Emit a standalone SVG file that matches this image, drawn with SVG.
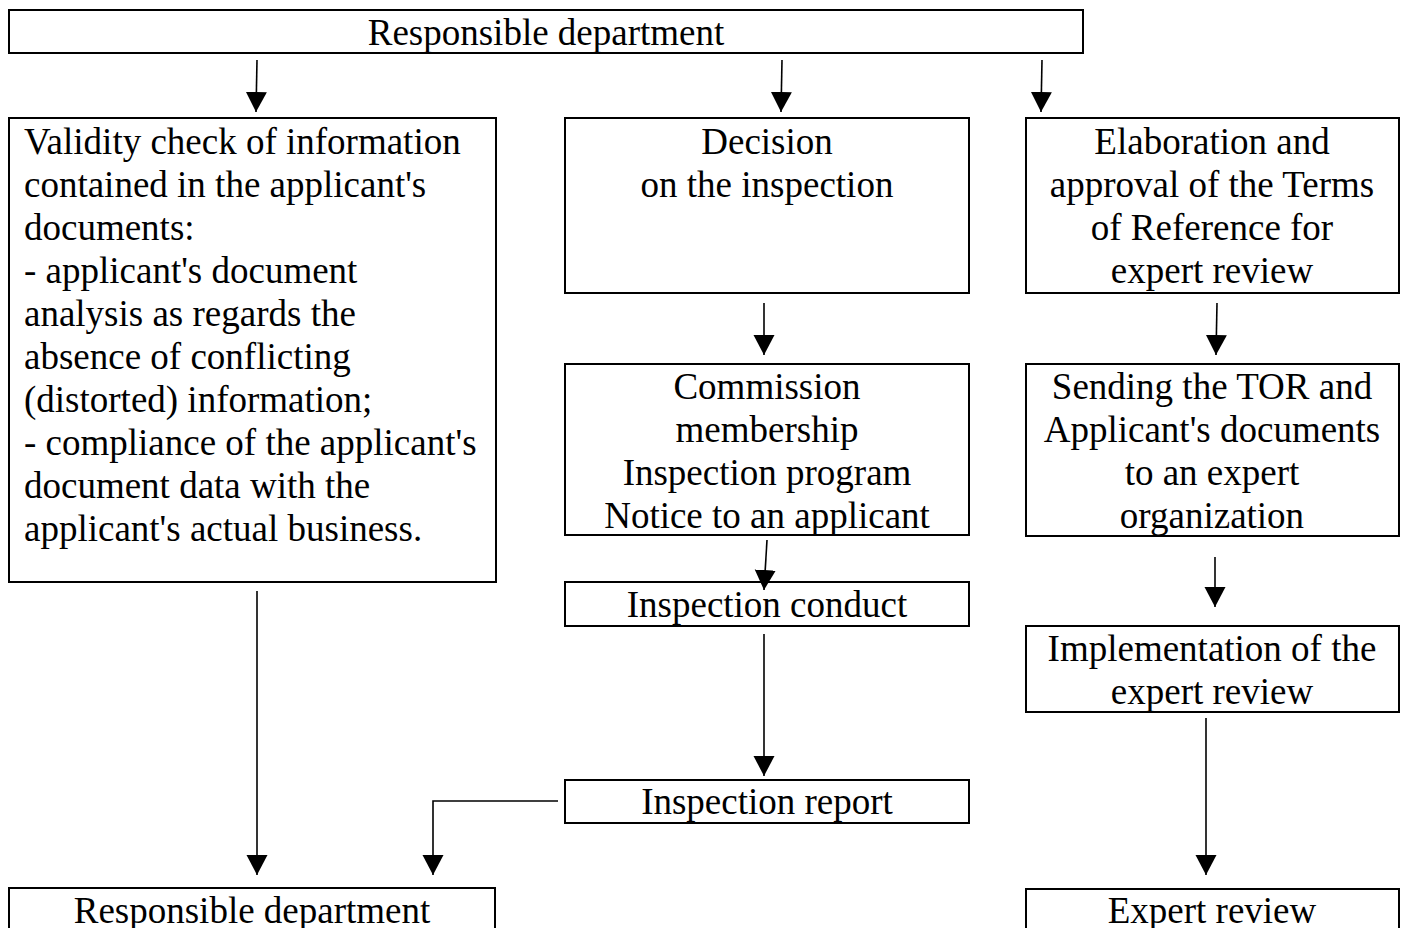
<svg xmlns="http://www.w3.org/2000/svg" width="1405" height="928" viewBox="0 0 1405 928">
<style>
.box{fill:#fff;stroke:#000;stroke-width:2}
.t{font-family:"Liberation Serif","Times New Roman",serif;font-size:37px;fill:#000}
.c{text-anchor:middle}
.ln{fill:none;stroke:#000;stroke-width:1.6}
</style>
<defs>
<marker id="ah" markerUnits="userSpaceOnUse" markerWidth="21" markerHeight="22" refX="20" refY="10.5" orient="auto" viewBox="0 0 21 22">
<path d="M0,0 L20,10.5 L0,21 z" fill="#000"/>
</marker>
</defs>
<rect width="1405" height="928" fill="#fff"/>
<g id="n-top"><rect class="box" x="9" y="10" width="1074" height="43"/><text class="t c" x="546" y="45">Responsible department</text></g>
<g id="n-validity"><rect class="box" x="9" y="118" width="487" height="464"/>
<text class="t" x="24" y="154">Validity check of information</text>
<text class="t" x="24" y="197">contained in the applicant's</text>
<text class="t" x="24" y="240">documents:</text>
<text class="t" x="24" y="283">- applicant's document</text>
<text class="t" x="24" y="326">analysis as regards the</text>
<text class="t" x="24" y="369">absence of conflicting</text>
<text class="t" x="24" y="412">(distorted) information;</text>
<text class="t" x="24" y="455">- compliance of the applicant's</text>
<text class="t" x="24" y="498">document data with the</text>
<text class="t" x="24" y="541">applicant's actual business.</text>
</g>
<g id="n-decision"><rect class="box" x="565" y="118" width="404" height="175"/>
<text class="t c" x="767" y="154">Decision</text>
<text class="t c" x="767" y="197">on the inspection</text></g>
<g id="n-elaboration"><rect class="box" x="1026" y="118" width="373" height="175"/>
<text class="t c" x="1212" y="154">Elaboration and</text>
<text class="t c" x="1212" y="197">approval of the Terms</text>
<text class="t c" x="1212" y="240">of Reference for</text>
<text class="t c" x="1212" y="283">expert review</text></g>
<g id="n-commission"><rect class="box" x="565" y="364" width="404" height="171"/>
<text class="t c" x="767" y="399">Commission</text>
<text class="t c" x="767" y="442">membership</text>
<text class="t c" x="767" y="485">Inspection program</text>
<text class="t c" x="767" y="528">Notice to an applicant</text></g>
<g id="n-sending"><rect class="box" x="1026" y="364" width="373" height="172"/>
<text class="t c" x="1212" y="399">Sending the TOR and</text>
<text class="t c" x="1212" y="442">Applicant's documents</text>
<text class="t c" x="1212" y="485">to an expert</text>
<text class="t c" x="1212" y="528">organization</text></g>
<g id="n-conduct"><rect class="box" x="565" y="582" width="404" height="44"/>
<text class="t c" x="767" y="617">Inspection conduct</text></g>
<g id="n-implementation"><rect class="box" x="1026" y="626" width="373" height="86"/>
<text class="t c" x="1212" y="661">Implementation of the</text>
<text class="t c" x="1212" y="704">expert review</text></g>
<g id="n-report"><rect class="box" x="565" y="780" width="404" height="43"/>
<text class="t c" x="767" y="814">Inspection report</text></g>
<g id="n-bottom-dept"><rect class="box" x="9" y="888" width="486" height="60"/>
<text class="t c" x="252" y="923">Responsible department</text></g>
<g id="n-expert"><rect class="box" x="1026" y="889" width="373" height="60"/>
<text class="t c" x="1212" y="923">Expert review</text></g>
<g id="connectors" class="ln" marker-end="url(#ah)">
<line x1="257" y1="60" x2="256" y2="112"/>
<line x1="782" y1="60" x2="781" y2="112"/>
<line x1="1042" y1="60" x2="1041" y2="112"/>
<line x1="764" y1="303" x2="764" y2="355"/>
<line x1="767" y1="540" x2="764" y2="590"/>
<line x1="764" y1="634" x2="764" y2="776"/>
<line x1="257" y1="591" x2="257" y2="875"/>
<polyline points="558,801 433,801 433,875"/>
<line x1="1217" y1="303" x2="1216" y2="355"/>
<line x1="1215" y1="557" x2="1215" y2="607"/>
<line x1="1206" y1="718" x2="1206" y2="875"/>
</g>
</svg>
